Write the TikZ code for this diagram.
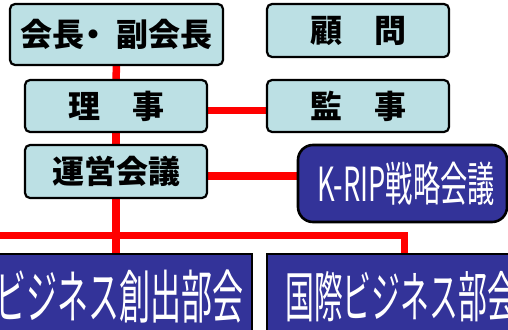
\documentclass[tikz,border=0pt]{standalone}
\usepackage{fontspec}
\usepackage{graphicx}
\newfontfamily\jp{Noto Sans CJK JP}
\usetikzlibrary{backgrounds,calc}
\definecolor{boxcyan}{RGB}{188,224,228}
\definecolor{boxblue}{RGB}{51,51,153}
\definecolor{connred}{RGB}{255,0,0}
\tikzset{
  lightbox/.style={draw=black, line width=2.2pt, fill=boxcyan, rounded corners=5pt,
    inner sep=0pt, font=\jp\bfseries\fontsize{32}{32}\selectfont, text=black},
  bluebox/.style={draw=black, line width=2.6pt, fill=boxblue, inner sep=0pt},
  bluetext/.style={inner sep=0pt, text=white},
  conn/.style={draw=connred, line width=7.5pt}
}
\begin{document}
\begin{tikzpicture}[x=1pt,y=-1pt]
\useasboundingbox (0,0) rectangle (508,329);
% top light boxes
\node[lightbox, minimum width=213pt, minimum height=61pt] (chair) at (116.5,34.5) {会長\makebox[32pt][l]{\hspace{-7pt}・}副会長};
\node[lightbox, minimum width=182pt, minimum height=52pt] (riji) at (116,106) {理　事};
\node[lightbox, minimum width=182pt, minimum height=53pt] (ops) at (116,171.5) {運営会議};
\node[lightbox, minimum width=182pt, minimum height=53pt] (komon) at (358,30.5) {顧　問};
\node[lightbox, minimum width=182pt, minimum height=52pt] (kanji) at (358,106) {監　事};
% K-RIP box
\node[bluebox, rounded corners=15pt, minimum width=209pt, minimum height=77pt] (krip) at (402.5,183.5) {};
\node[bluetext, font=\jp\fontsize{47}{47}\selectfont] (kriptext) at (406,184) {\scalebox{0.58}[1]{K-RIP戦略会議}};
% bottom boxes
\node[bluebox, minimum width=263pt, minimum height=90pt] (bizL) at (120.5,299) {};
\node[bluebox, minimum width=253pt, minimum height=90pt] (bizR) at (393.5,299) {};
\node[bluetext, anchor=east, font=\jp\fontsize{58}{58}\selectfont] (bizLtext) at (244,297) {\scalebox{0.535}[1]{ビジネス創出部会}};
\node[bluetext, anchor=west, font=\jp\fontsize{55}{55}\selectfont] (bizRtext) at (285,297) {\scalebox{0.525}[1]{国際ビジネス部会}};
% connectors
\coordinate (lend) at (-10,235.5);
\coordinate (rdrop) at (404.5,256);
\begin{scope}[on background layer]
\draw[conn] (chair.south) -- (riji.north);
\draw[conn] (riji.south) -- (ops.north);
\draw[conn] (riji.east |- 0,110.5) -- (kanji.west |- 0,110.5);
\draw[conn] (ops.east |- 0,176) -- (krip.west |- 0,176);
\draw[conn] (ops.south) -- (ops.south |- bizL.north);
\draw[conn] (lend) -| (rdrop);
\end{scope}
\end{tikzpicture}
\end{document}
